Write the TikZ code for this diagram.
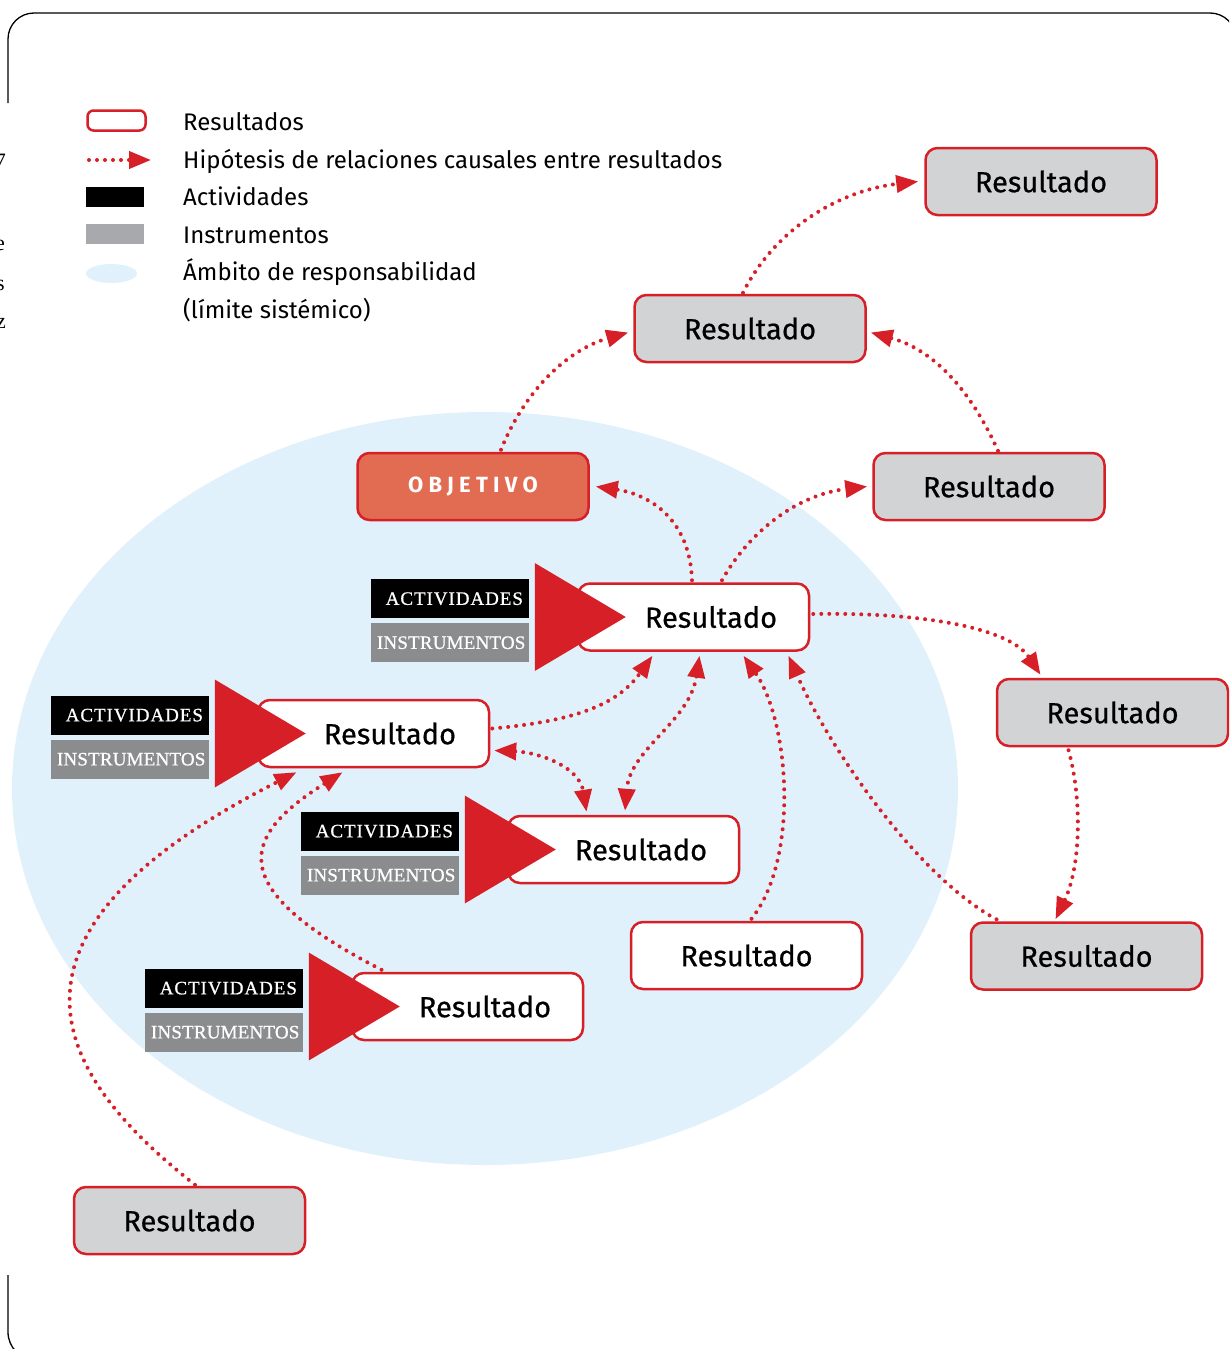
\documentclass[tikz,border=0pt]{standalone}
\usepackage{fontspec}
\setmainfont{Fira Sans}
\newfontfamily\boxfont{Fira Sans}[FakeBold=0.6]
\newfontfamily\objfont{Fira Sans}[LetterSpace=24]
\newfontfamily\actfont{Liberation Serif}[LetterSpace=5,FakeBold=0.8]
\newfontfamily\instfont{Liberation Serif}[LetterSpace=1,FakeBold=0.8]
\newfontfamily\edgefont{Liberation Serif}
\usetikzlibrary{arrows.meta,calc,shapes.geometric}

\definecolor{rred}{HTML}{D71F27}
\definecolor{boxgray}{HTML}{D1D3D4}
\definecolor{objfill}{HTML}{E26C51}
\definecolor{zone}{HTML}{E0F1FB}
\definecolor{instgray}{HTML}{8B8C8E}
\definecolor{leggray}{HTML}{A7A9AC}

\pgfdeclarelayer{zonelayer}
\pgfdeclarelayer{linklayer}
\pgfsetlayers{zonelayer,linklayer,main}

\tikzset{
  res/.style={draw=rred, line width=2.5pt, rounded corners=12pt,
    minimum width=231pt, minimum height=67pt, inner sep=0pt,
    font=\boxfont\fontsize{29}{30}\selectfont, text=black},
  resw/.style={res, fill=white},
  resg/.style={res, fill=boxgray},
  obj/.style={res, fill=objfill, text=white,
    font=\objfont\bfseries\fontsize{22}{24}\selectfont},
  act/.style={fill=black, text=white, minimum width=158pt, minimum height=39pt,
    text width=146pt, align=right, inner xsep=6pt, inner ysep=0pt,
    font=\actfont\fontsize{19}{19}\selectfont},
  inst/.style={act, fill=instgray, font=\instfont\fontsize{19}{19}\selectfont},
  tip/.tip={Triangle[length=22pt,width=17pt]},
  link/.style={draw=rred, line width=4pt, line cap=round,
    dash pattern=on 0pt off 8pt, -tip},
  linkboth/.style={link, tip-tip},
  legtext/.style={anchor=base west, inner sep=0pt, font=\fontsize{24}{26}\selectfont},
  edgetext/.style={anchor=base east, inner sep=0pt, font=\edgefont\fontsize{22}{24}\selectfont}
}

% activities / instruments labels and the red wedge in front of a result box
\newcommand{\actgroup}[1]{%
  \node[act, anchor=north west] (#1act) at ($(#1.west)+(-206,-38)$) {ACTIVIDADES};
  \node[inst, anchor=north west] (#1ins) at ($(#1.west)+(-206,6)$) {INSTRUMENTOS};
  \fill[rred] ($(#1.west)+(-42,-54)$) -- ($(#1.west)+(-42,54)$) -- ($(#1.west)+(49,0)$) -- cycle;}

\begin{document}
\begin{tikzpicture}[x=1pt,y=-1pt]
\useasboundingbox (0,0) rectangle (1229,1349);
\clip (0,0) rectangle (1229,1349);

% page frame and cut-off margin text
\draw[black, line width=1.3pt, rounded corners=26pt] (8,103) -- (8,13) -- (1236,13) -- (1236,200);
\draw[black, line width=1.3pt, rounded corners=28pt] (8,1275) -- (8,1360) -- (200,1360);
\node[edgetext] (frag1) at (6,168) {7};
\node[edgetext] (frag2) at (5,250) {e};
\node[edgetext] (frag3) at (5,290) {s};
\node[edgetext] (frag4) at (6,328) {z};

% system boundary
\begin{pgfonlayer}{zonelayer}
  \fill[zone] (485,788.5) ellipse [x radius=473, y radius=376.5];
\end{pgfonlayer}

% legend
\node[draw=rred, line width=2.5pt, rounded corners=6pt, minimum width=58pt,
  minimum height=20pt, inner sep=0pt] (legres) at (116.5,120.5) {};
\coordinate (legA) at (89,160);
\coordinate (legB) at (151,160);
\draw[link] (legA) -- (legB);
\node[fill=black, minimum width=58pt, minimum height=20pt, inner sep=0pt] (legact) at (115,197) {};
\node[fill=leggray, minimum width=58pt, minimum height=20pt, inner sep=0pt] (leginst) at (115,234) {};
\node[ellipse, fill=zone, minimum width=51pt, minimum height=19pt, inner sep=0pt] (legzone) at (111.5,273.5) {};
\node[legtext] (legt1) at (183,130.5) {Resultados};
\node[legtext] (legt2) at (183,168) {Hipótesis de relaciones causales entre resultados};
\node[legtext] (legt3) at (183,205.5) {Actividades};
\node[legtext] (legt4) at (183,243) {Instrumentos};
\node[legtext] (legt5) at (183,280.5) {Ámbito de responsabilidad};
\node[legtext] (legt6) at (183,318) {(límite sistémico)};

% results
\node[resg] (b1) at (1041,181.5) {Resultado};
\node[resg] (b2) at (750,328.5) {Resultado};
\node[resg] (b3) at (989,486.5) {Resultado};
\node[obj]  (obj) at (473,486.5) {OBJETIVO};
\node[resw] (b5) at (693.5,617) {\hspace*{35pt}Resultado};
\node[resg] (b6) at (1112.5,712.5) {Resultado};
\node[resw] (b7) at (373.5,733.5) {\hspace*{33pt}Resultado};
\node[resw] (b8) at (623.5,849.5) {\hspace*{35pt}Resultado};
\node[resw] (b9) at (746.5,955.5) {Resultado};
\node[resg] (b10) at (1086.5,956) {Resultado};
\node[resw] (b11) at (467.5,1006.5) {\hspace*{35pt}Resultado};
\node[resg] (b12) at (189.5,1220.5) {Resultado};

\actgroup{b5}
\actgroup{b7}
\actgroup{b8}
\actgroup{b11}

% hypothesised causal links
\begin{pgfonlayer}{linklayer}
\draw[link] ($(b2.north)+(-7,-1)$) .. controls +(32,-64) and +(-79,9) .. ($(b1.west)+(-6,0)$);
\draw[link] ($(obj.north)+(28,-2)$) .. controls +(24,-60) and +(-60,17) .. ($(b2.west)+(-5,4)$);
\draw[link] ($(b3.north)+(9,-1)$) .. controls +(-28,-62) and +(62,17) .. ($(b2.east)+(4,4)$);
\draw[link] ($(b5.north)+(-1.5,-2)$) .. controls +(-2,-60) and +(55,8) .. ($(obj.east)+(6,0)$);
\draw[link] ($(b5.north)+(28.5,-2)$) .. controls +(28,-50) and +(-69,8) .. ($(b3.west)+(-5,0)$);
\draw[link] ($(b5.east)+(3,-3)$) .. controls +(108,-2) and +(-31,-47) .. ($(b6.north)+(-72,-3)$);
\draw[link] ($(b6.south)+(-44,3)$) .. controls +(14,50) and +(25,-52) .. ($(b10.north)+(-31,-2)$);
\draw[link] ($(b7.east)+(2,-5)$) .. controls +(90,-8) and +(-33,46) .. ($(b5.south)+(-41,4)$);
\draw[linkboth] ($(b7.east)+(4,17)$) .. controls +(47,2) and +(-7,-44) .. ($(b8.north)+(-37,-3)$);
\draw[linkboth] ($(b5.south)+(6,4)$) .. controls +(-10,66) and +(5,-62) .. ($(b8.north)+(1.5,-4)$);
\draw[link] ($(b9.north)+(5,-2)$) .. controls +(48,-60) and +(46,66) .. ($(b5.south)+(50,4)$);
\draw[link] ($(b10.north)+(-90,-2)$) .. controls +(-77,-41) and +(42,95) .. ($(b5.south)+(95,4)$);
\draw[link] ($(b12.north)+(5.5,-1)$) .. controls +(-137.5,-108) and +(-326,165) .. ($(b7.south)+(-77,4)$);
\draw[link] ($(b11.north)+(-86,-2)$) .. controls +(-165.5,-85) and +(-96.5,61) .. ($(b7.south)+(-31,4)$);
\end{pgfonlayer}
\end{tikzpicture}
\end{document}
